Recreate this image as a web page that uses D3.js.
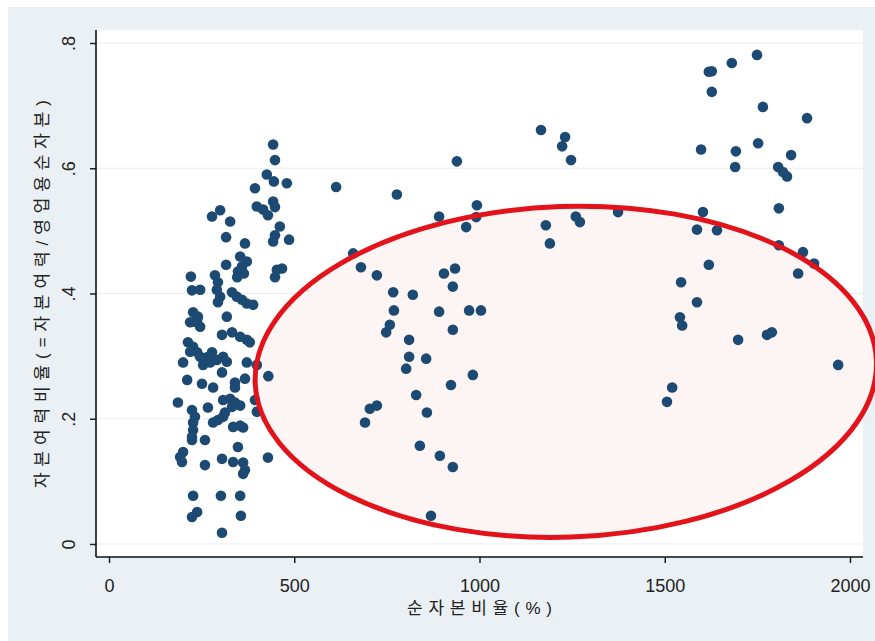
<!DOCTYPE html>
<html>
<head>
<meta charset="utf-8">
<script src="https://cdn.jsdelivr.net/npm/d3@7"></script>
<style>
  body { margin: 0; background: #fff; }
  svg { display: block; font-family: "Liberation Sans", Arial, "Noto Sans CJK KR", sans-serif; }
</style>
</head>
<body>
<div id="chart"></div>
<script>
// 순자본비율 (%)
const netCapitalRatio = [
    1749, 1681, 1619, 1627, 1627, 1765, 1884, 1598, 1692, 1752, 1841, 1690, 1806, 1819, 1830,
    1808, 1603, 1587, 1641, 1808, 1873, 1903, 1860, 1619, 1544, 1587, 1541, 1547, 1698, 1776,
    1789, 1968, 1520, 1506,
    1166, 1231, 1223, 1247, 1260, 1271, 1374, 1179, 1190, 613, 777, 939, 891, 993, 991, 964,
    659, 680, 723, 904, 934, 928, 767, 820, 769, 891, 972, 1004, 758, 748, 928, 810, 810, 856,
    802, 982, 923, 829, 704, 723, 691, 858, 839, 893, 928, 869,
    443, 448, 426, 445, 480, 394, 399, 416, 443, 448, 429, 278, 300, 327, 461, 448, 443, 486,
    316, 367, 354, 372, 359, 348, 364, 346, 316, 453, 467, 448, 221, 224, 246, 286, 294, 291,
    300, 294, 332, 345, 359, 372, 389, 227, 240, 232, 219, 318, 238, 246, 305, 332, 354, 372,
    380, 213, 227, 238, 219, 246, 264, 278, 291, 308, 318, 273, 254, 200, 372, 399, 305, 430,
    211, 251, 281, 340, 340, 367, 186, 224, 267, 308, 327, 332, 354, 340, 394, 399, 232, 227,
    227, 224, 224, 281, 294, 308, 313, 335, 354, 362, 259, 348, 200, 192, 197, 259, 305, 335,
    362, 367, 362, 429, 227, 302, 354, 224, 238, 356, 305
];

// 자본여력비율
const reserveRatio = [
    0.781, 0.768, 0.754, 0.755, 0.722, 0.698, 0.680, 0.630, 0.627, 0.640, 0.621, 0.602, 0.602, 0.594, 0.587,
    0.536, 0.530, 0.502, 0.501, 0.477, 0.466, 0.448, 0.432, 0.446, 0.418, 0.386, 0.362, 0.349, 0.326, 0.334,
    0.338, 0.286, 0.250, 0.227,
    0.661, 0.650, 0.635, 0.613, 0.523, 0.514, 0.530, 0.509, 0.480, 0.570, 0.558, 0.611, 0.523, 0.541, 0.522, 0.506,
    0.464, 0.442, 0.429, 0.432, 0.440, 0.411, 0.402, 0.398, 0.373, 0.371, 0.373, 0.373, 0.350, 0.338, 0.342, 0.326, 0.299, 0.296,
    0.280, 0.270, 0.254, 0.238, 0.216, 0.221, 0.194, 0.210, 0.157, 0.141, 0.123, 0.045,
    0.638, 0.613, 0.590, 0.579, 0.576, 0.568, 0.539, 0.534, 0.547, 0.538, 0.525, 0.523, 0.533, 0.515, 0.507, 0.493, 0.483, 0.486,
    0.490, 0.480, 0.459, 0.451, 0.443, 0.435, 0.432, 0.426, 0.446, 0.438, 0.440, 0.426, 0.427, 0.405, 0.406, 0.429, 0.418, 0.406,
    0.395, 0.386, 0.402, 0.395, 0.390, 0.384, 0.382, 0.370, 0.363, 0.355, 0.354, 0.363, 0.358, 0.347, 0.334, 0.338, 0.331, 0.326,
    0.322, 0.322, 0.315, 0.306, 0.307, 0.299, 0.298, 0.306, 0.294, 0.299, 0.291, 0.290, 0.286, 0.290, 0.290, 0.286, 0.274, 0.268,
    0.262, 0.256, 0.250, 0.258, 0.250, 0.264, 0.226, 0.214, 0.218, 0.230, 0.232, 0.219, 0.221, 0.226, 0.230, 0.211, 0.203, 0.194,
    0.182, 0.171, 0.166, 0.194, 0.198, 0.203, 0.210, 0.187, 0.189, 0.186, 0.166, 0.155, 0.147, 0.139, 0.131, 0.126, 0.136, 0.131,
    0.130, 0.118, 0.112, 0.138, 0.077, 0.077, 0.077, 0.043, 0.051, 0.045, 0.018
];

const xTicks = [0, 500, 1000, 1500, 2000];
const yTicks = [0, 0.2, 0.4, 0.6, 0.8];

// highlighted area (in data units)
const ellipseCenter = [1233, 0.275];
const ellipseRadius = [839, 0.264];

const width = 875, height = 641;
const plot = {left: 96, right: 863, top: 30, bottom: 557};

const svg = d3.select('#chart')
    .append('svg')
    .attr('width', width)
    .attr('height', height);

svg.append('rect')
    .attr('x', 8)
    .attr('y', 7)
    .attr('width', width - 8)
    .attr('height', height - 7)
    .attr('fill', '#eaf0f4');

svg.append('rect')
    .attr('x', plot.left)
    .attr('y', plot.top)
    .attr('width', plot.right - plot.left)
    .attr('height', plot.bottom - plot.top)
    .attr('fill', '#fff');

const x = d3.scaleLinear().domain([0, 2000]).range([109, 850]);
const y = d3.scaleLinear().domain([0, 0.8]).range([544, 43]);

// grid lines
svg.append('g')
    .selectAll('line')
    .data(yTicks)
    .join('line')
    .attr('x1', plot.left)
    .attr('x2', plot.right)
    .attr('y1', d => y(d))
    .attr('y2', d => y(d))
    .attr('stroke', '#e8ecee')
    .attr('stroke-width', 1.2);

// ellipse fill under the points
const ex = x(ellipseCenter[0]), ey = y(ellipseCenter[1]);
const erx = x(ellipseCenter[0] + ellipseRadius[0]) - ex;
const ery = y(0) - y(ellipseRadius[1]);

svg.append('ellipse')
    .attr('cx', ex)
    .attr('cy', ey)
    .attr('rx', erx)
    .attr('ry', ery)
    .attr('transform', `rotate(-2, ${ex}, ${ey})`)
    .attr('fill', '#fdf4f4');

// points
svg.append('g')
    .selectAll('circle')
    .data(d3.zip(netCapitalRatio, reserveRatio))
    .join('circle')
    .attr('cx', d => x(d[0]))
    .attr('cy', d => y(d[1]))
    .attr('r', 5.3)
    .attr('fill', '#1c4a72');

// ellipse outline on top
svg.append('ellipse')
    .attr('cx', ex)
    .attr('cy', ey)
    .attr('rx', erx)
    .attr('ry', ery)
    .attr('transform', `rotate(-2, ${ex}, ${ey})`)
    .attr('fill', 'none')
    .attr('stroke', '#e3131b')
    .attr('stroke-width', 5);

// axes
const fmt = d => d === 0 ? '0' : String(d).replace('0.', '.');

const yAxis = svg.append('g')
    .attr('transform', `translate(${plot.left},0)`)
    .call(d3.axisLeft(y).tickValues(yTicks).tickFormat(fmt).tickSize(6));
yAxis.select('.domain').remove();
yAxis.selectAll('.tick line').attr('stroke', '#222').attr('stroke-width', 1.5);
yAxis.selectAll('.tick text')
    .attr('x', 0)
    .attr('dy', 0)
    .attr('text-anchor', 'middle')
    .attr('transform', 'translate(-21,0) rotate(-90)')
    .attr('fill', '#222')
    .style('font-size', '18px');

const xAxis = svg.append('g')
    .attr('transform', `translate(0,${plot.bottom})`)
    .call(d3.axisBottom(x).tickValues(xTicks).tickFormat(d3.format('d')).tickSize(6));
xAxis.select('.domain').remove();
xAxis.selectAll('.tick line').attr('stroke', '#222').attr('stroke-width', 1.5);
xAxis.selectAll('.tick text')
    .attr('y', 35)
    .attr('dy', 0)
    .attr('fill', '#222')
    .style('font-size', '18px');

svg.append('line')
    .attr('x1', plot.left).attr('x2', plot.left)
    .attr('y1', plot.top).attr('y2', plot.bottom)
    .attr('stroke', '#111').attr('stroke-width', 1.6);
svg.append('line')
    .attr('x1', plot.left).attr('x2', plot.right)
    .attr('y1', plot.bottom).attr('y2', plot.bottom)
    .attr('stroke', '#111').attr('stroke-width', 1.6);

// titles
svg.append('text')
    .attr('x', 407)
    .attr('y', 614)
    .attr('textLength', 145)
    .attr('lengthAdjust', 'spacing')
    .attr('fill', '#222')
    .style('font-size', '17px')
    .text('순자본비율(%)');

svg.append('text')
    .attr('transform', 'translate(48,488) rotate(-90)')
    .attr('textLength', 388)
    .attr('lengthAdjust', 'spacing')
    .attr('fill', '#222')
    .style('font-size', '17px')
    .text('자본여력비율(=자본여력/영업용순자본)');
</script>
</body>
</html>
